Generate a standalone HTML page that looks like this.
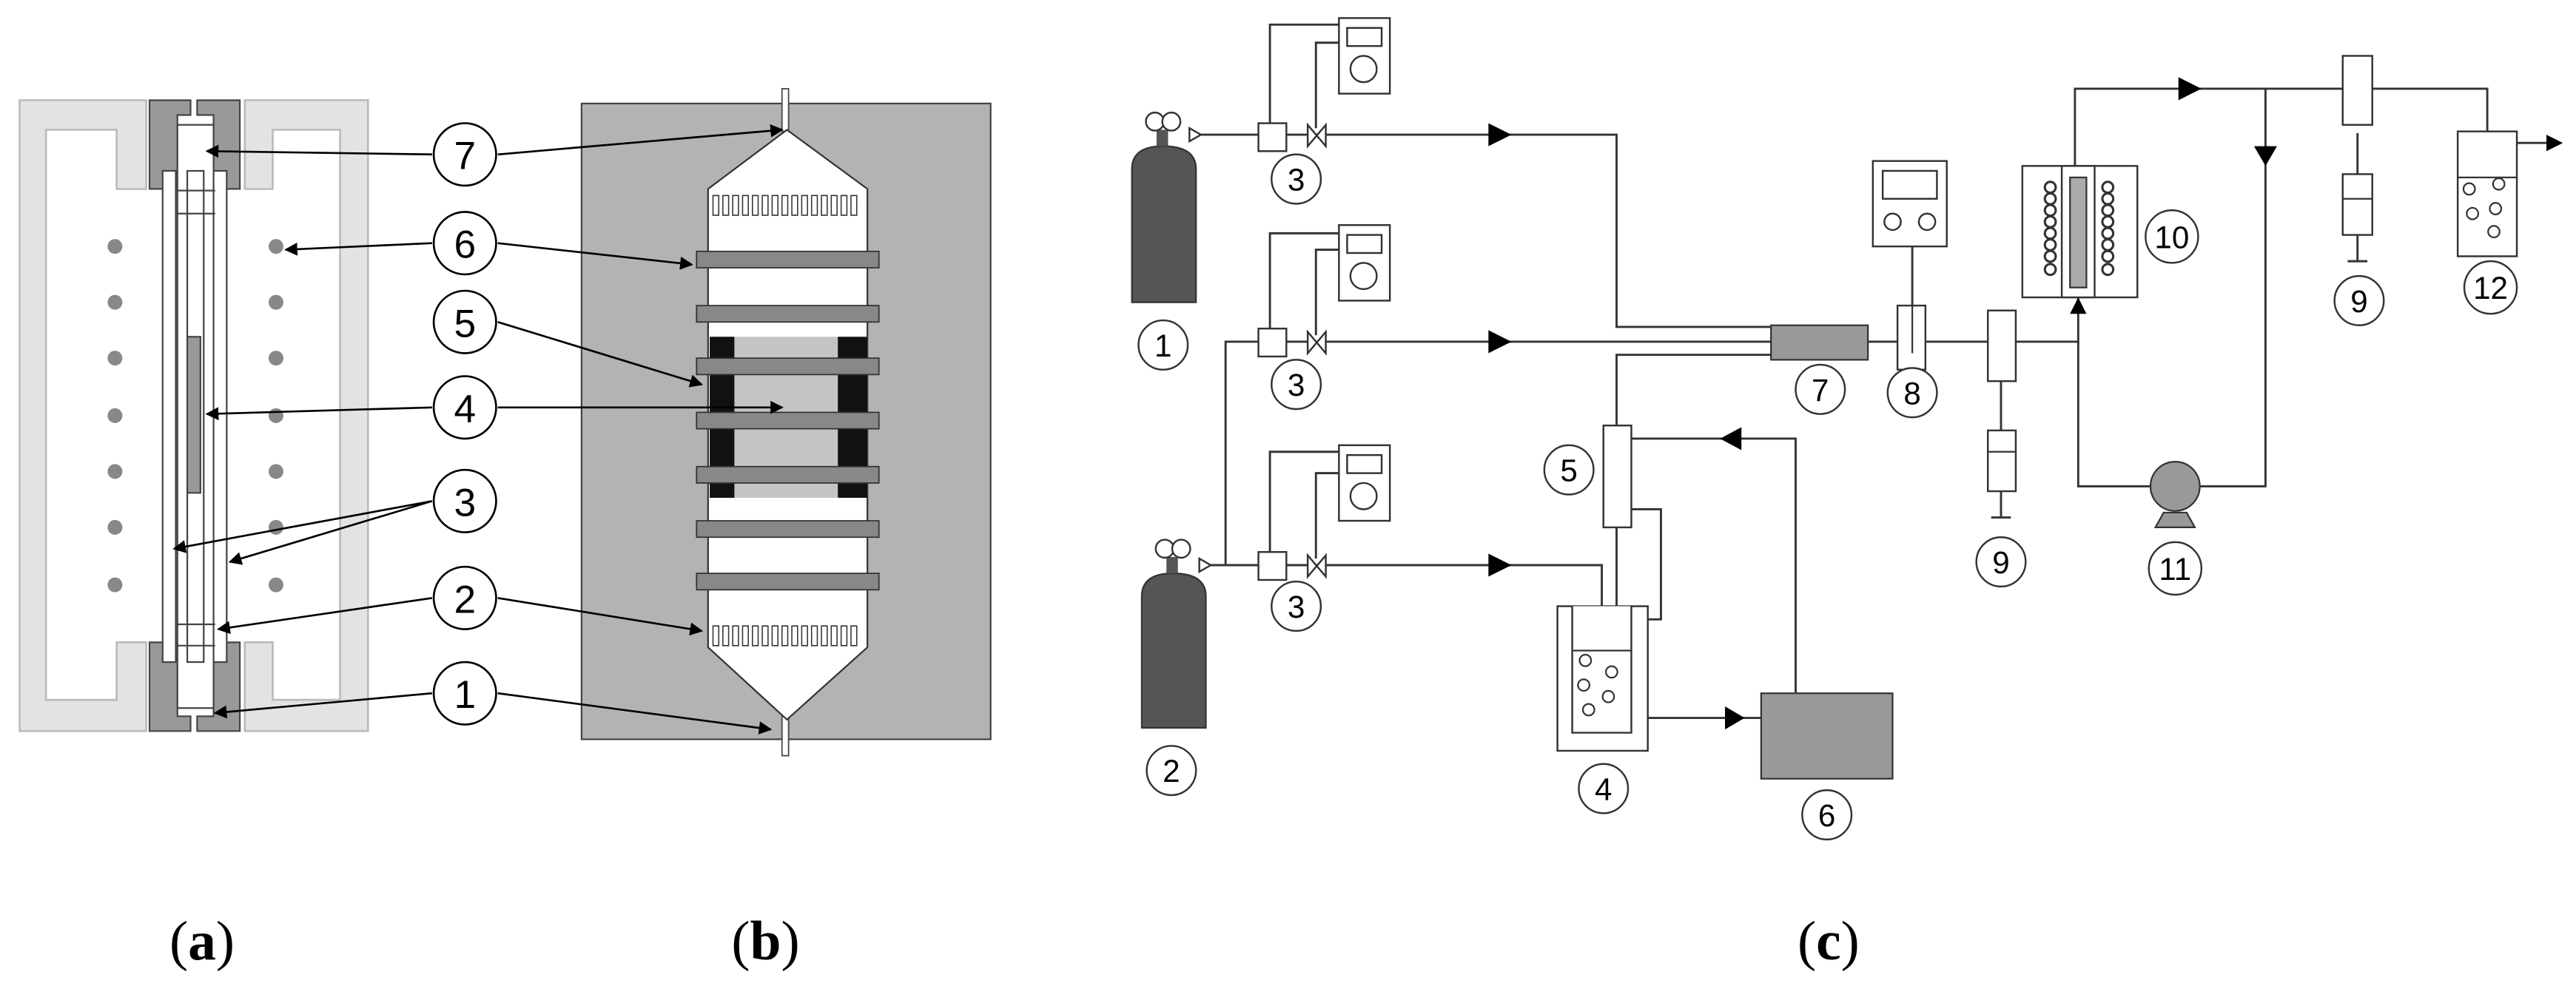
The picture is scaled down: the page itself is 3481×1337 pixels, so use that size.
<!DOCTYPE html>
<html><head><meta charset="utf-8"><style>html,body{margin:0;padding:0;background:#fff}svg{display:block}</style></head>
<body>
<svg width="3481" height="1337" viewBox="0 0 1568 602" preserveAspectRatio="none" xmlns="http://www.w3.org/2000/svg" font-family="Liberation Sans, sans-serif">
<defs>
<marker id="ar" markerWidth="8" markerHeight="8" refX="7" refY="4" orient="auto" markerUnits="userSpaceOnUse"><path d="M0,0 L8,4 L0,8 z" fill="#000"/></marker>
</defs>
<!-- (a) -->
<g stroke="#bbb" stroke-width="1.2">
<path d="M12,61 H89 V115 H71 V79 H28 V426 H71 V391 H89 V445 H12 Z" fill="#e3e3e3"/>
<path d="M224,61 H149 V115 H166 V79 H207 V426 H166 V391 H149 V445 H224 Z" fill="#e3e3e3"/>
</g>
<g stroke="#444" stroke-width="1">
<path d="M91,61 H116 V70 H108 V115 H91 Z" fill="#999"/>
<path d="M146,61 H120 V70 H130 V115 H146 Z" fill="#999"/>
<path d="M91,445 H116 V436 H108 V391 H91 Z" fill="#999"/>
<path d="M146,445 H120 V436 H130 V391 H146 Z" fill="#999"/>
<rect x="108" y="76" width="22" height="355" fill="#fff"/>
<rect x="99" y="104" width="8" height="299" fill="#fff"/>
<rect x="130" y="104" width="8" height="299" fill="#fff"/>
<rect x="114" y="104" width="10" height="299" fill="#fff"/>
<line x1="107" y1="116" x2="131" y2="116"/><line x1="107" y1="130" x2="131" y2="130"/>
<line x1="107" y1="380" x2="131" y2="380"/><line x1="107" y1="393" x2="131" y2="393"/>
<rect x="114" y="205" width="8" height="95" fill="#999"/>
</g>
<g fill="#888"><circle cx="70" cy="150" r="4.5"/><circle cx="70" cy="184" r="4.5"/><circle cx="70" cy="218" r="4.5"/><circle cx="70" cy="253" r="4.5"/><circle cx="70" cy="287" r="4.5"/><circle cx="70" cy="321" r="4.5"/><circle cx="70" cy="356" r="4.5"/>
<circle cx="168" cy="150" r="4.5"/><circle cx="168" cy="184" r="4.5"/><circle cx="168" cy="218" r="4.5"/><circle cx="168" cy="253" r="4.5"/><circle cx="168" cy="287" r="4.5"/><circle cx="168" cy="321" r="4.5"/><circle cx="168" cy="356" r="4.5"/></g>
<!-- (b) -->
<rect x="354" y="63" width="249" height="387" fill="#b3b3b3" stroke="#444"/>
<rect x="476" y="54" width="4" height="26" fill="#fff" stroke="#444" stroke-width="0.8"/>
<rect x="476" y="434" width="4" height="26" fill="#fff" stroke="#444" stroke-width="0.8"/>
<path d="M479,79 L431,115 V394 L479,438 L528,394 V115 Z" fill="#fff" stroke="#333"/>
<g stroke="#333" stroke-width="0.7" fill="none" id="perf">
<path d="M434,119v12h3.5v-12zM440,119v12h3.5v-12zM446,119v12h3.5v-12zM452,119v12h3.5v-12zM458,119v12h3.5v-12zM464,119v12h3.5v-12zM470,119v12h3.5v-12zM476,119v12h3.5v-12zM482,119v12h3.5v-12zM488,119v12h3.5v-12zM494,119v12h3.5v-12zM500,119v12h3.5v-12zM506,119v12h3.5v-12zM512,119v12h3.5v-12zM518,119v12h3.5v-12z"/>
</g>
<use href="#perf" y="262"/>
<rect x="432" y="205" width="96" height="98" fill="#c4c4c4"/>
<rect x="432" y="205" width="15" height="98" fill="#111"/><rect x="510" y="205" width="18" height="98" fill="#111"/>
<g fill="#888" stroke="#333" stroke-width="0.8">
<rect x="424" y="153" width="111" height="10"/><rect x="424" y="186" width="111" height="10"/><rect x="424" y="218" width="111" height="10"/><rect x="424" y="251" width="111" height="10"/><rect x="424" y="284" width="111" height="10"/><rect x="424" y="317" width="111" height="10"/><rect x="424" y="349" width="111" height="10"/>
</g>
<g stroke="#000" stroke-width="1.2" fill="none" marker-end="url(#ar)">
<line x1="263" y1="94" x2="126" y2="92"/>
<line x1="303" y1="94" x2="476" y2="79"/>
<line x1="263" y1="148" x2="174" y2="152"/>
<line x1="303" y1="148" x2="421" y2="161"/>
<line x1="303" y1="196" x2="427" y2="234"/>
<line x1="263" y1="248" x2="126" y2="252"/>
<line x1="303" y1="248" x2="476" y2="248"/>
<line x1="263" y1="305" x2="106" y2="334"/>
<line x1="263" y1="305" x2="140" y2="342"/>
<line x1="263" y1="364" x2="133" y2="383"/>
<line x1="303" y1="364" x2="427" y2="384"/>
<line x1="263" y1="422" x2="131" y2="434"/>
<line x1="303" y1="422" x2="469" y2="444"/>
</g>
<g fill="#fff" stroke="#000" stroke-width="1.2">
<circle cx="283" cy="94" r="19"/><circle cx="283" cy="148" r="19"/><circle cx="283" cy="196" r="19"/><circle cx="283" cy="248" r="19"/><circle cx="283" cy="305" r="19"/><circle cx="283" cy="364" r="19"/><circle cx="283" cy="422" r="19"/>
</g>
<g font-size="24" text-anchor="middle">
<text x="283" y="103">7</text><text x="283" y="157">6</text><text x="283" y="205">5</text><text x="283" y="257">4</text><text x="283" y="314">3</text><text x="283" y="373">2</text><text x="283" y="431">1</text>
</g>
<!-- (c) connectors -->
<g stroke="#333" stroke-width="1.3" fill="none">
<path d="M731,82 H984 V199 H1078"/>
<path d="M746,344 V208 H1078"/>
<path d="M984,259 V216 H1078"/>
<path d="M734,344 H975 V397"/>
<path d="M984,321 V374"/>
<path d="M993,310 H1011 V377 H1003"/>
<path d="M1003,437 H1072"/>
<path d="M1093,422 V267 H993"/>
<path d="M1137,208 H1265 V181"/>
<path d="M1263,101 V54 H1514 V139"/>
<path d="M1379,54 V296 H1339"/>
<path d="M1309,296 H1265 V208"/>
<path d="M1164,150 V215"/>
<path d="M1218,232 V262 M1218,299 V315 M1212,315 H1224"/>
<path d="M1435,81 V106 M1435,143 V159 M1429,159 H1441"/>
<path d="M1532,87 H1552"/>
<path d="M773,78 V15 H815 M801,78 V26 H815"/>
<path d="M773,204 V142 H815 M801,204 V152 H815"/>
<path d="M773,340 V275 H815 M801,340 V288 H815"/>
</g>
<g fill="#000">
<path d="M906,75 L920,82 L906,89 Z"/><path d="M906,201 L920,208 L906,215 Z"/><path d="M906,337 L920,344 L906,351 Z"/>
<path d="M1050,430 L1062,437 L1050,444 Z"/><path d="M1060,260 L1047,267 L1060,274 Z"/>
<path d="M1326,47 L1340,54 L1326,61 Z"/><path d="M1372,89 L1386,89 L1379,101 Z"/>
<path d="M1260,191 L1270,191 L1265,181 Z"/><path d="M1550,82 L1560,87 L1550,92 Z"/>
</g>
<!-- cylinders -->
<path d="M689,184 V103 Q689,89 708,89 Q728,89 728,103 V184 Z" fill="#555" stroke="#333"/>
<path d="M695,443 V363 Q695,349 714,349 Q734,349 734,363 V443 Z" fill="#555" stroke="#333"/>
<rect x="704" y="79" width="7" height="10" fill="#555"/><rect x="710" y="339" width="7" height="10" fill="#555"/>
<g fill="#fff" stroke="#333" stroke-width="1.1">
<circle cx="703" cy="74" r="5.5"/><circle cx="713" cy="74" r="5.5"/><circle cx="709" cy="334" r="5.5"/><circle cx="719" cy="334" r="5.5"/>
<path d="M724,78 L731,82 L724,86 Z"/><path d="M730,340 L737,344 L730,348 Z"/>
<rect x="766" y="75" width="17" height="17"/><rect x="766" y="200" width="17" height="17"/><rect x="766" y="336" width="17" height="17"/>
<path d="M796,76 L807,89 V76 L796,89 Z"/><path d="M796,202 L807,215 V202 L796,215 Z"/><path d="M796,338 L807,351 V338 L796,351 Z"/>
<rect x="815" y="11" width="31" height="46"/><rect x="815" y="137" width="31" height="46"/><rect x="815" y="271" width="31" height="46"/>
<rect x="820" y="17" width="21" height="11"/><rect x="820" y="143" width="21" height="11"/><rect x="820" y="277" width="21" height="11"/>
<circle cx="830" cy="42" r="8"/><circle cx="830" cy="168" r="8"/><circle cx="830" cy="302" r="8"/>
<rect x="1140" y="98" width="45" height="52"/><rect x="1146" y="104" width="33" height="17"/><circle cx="1152" cy="135" r="5"/><circle cx="1173" cy="135" r="5"/>
<rect x="1155" y="186" width="17" height="39"/>
<rect x="1210" y="189" width="17" height="43"/>
<rect x="1210" y="262" width="17" height="37"/>
<rect x="1426" y="34" width="18" height="42"/>
<rect x="1426" y="106" width="18" height="37"/>
<rect x="1231" y="101" width="70" height="80"/><rect x="1255" y="101" width="20" height="80"/>
<rect x="1496" y="80" width="36" height="76"/>
<rect x="948" y="369" width="55" height="88"/>
<path d="M957,369 V446 H993 V369"/>
<rect x="976" y="259" width="17" height="62"/>
</g>
<line x1="1164" y1="186" x2="1164" y2="215" stroke="#333"/>
<path d="M1496,108 H1532 M957,396 H993 M1210,275 H1227 M1426,121 H1444" stroke="#333"/>
<g stroke="#333" fill="none" stroke-width="1"><circle cx="1503" cy="115" r="3.5"/><circle cx="1521" cy="112" r="3.5"/><circle cx="1519" cy="127" r="3.5"/><circle cx="1505" cy="130" r="3.5"/><circle cx="1518" cy="141" r="3.5"/>
<circle cx="965" cy="402" r="3.5"/><circle cx="981" cy="409" r="3.5"/><circle cx="964" cy="417" r="3.5"/><circle cx="979" cy="424" r="3.5"/><circle cx="967" cy="432" r="3.5"/></g>
<rect x="1260" y="108" width="10" height="67" fill="#aaa" stroke="#333"/>
<g fill="#fff" stroke="#333" stroke-width="1.4">
<circle cx="1248" cy="114" r="3.3"/><circle cx="1248" cy="121" r="3.3"/><circle cx="1248" cy="128" r="3.3"/><circle cx="1248" cy="135" r="3.3"/><circle cx="1248" cy="142" r="3.3"/><circle cx="1248" cy="149" r="3.3"/><circle cx="1248" cy="156" r="3.3"/><circle cx="1248" cy="164" r="3.3"/>
<circle cx="1283" cy="114" r="3.3"/><circle cx="1283" cy="121" r="3.3"/><circle cx="1283" cy="128" r="3.3"/><circle cx="1283" cy="135" r="3.3"/><circle cx="1283" cy="142" r="3.3"/><circle cx="1283" cy="149" r="3.3"/><circle cx="1283" cy="156" r="3.3"/><circle cx="1283" cy="164" r="3.3"/>
</g>
<rect x="1078" y="198" width="59" height="21" fill="#999" stroke="#333"/>
<rect x="1072" y="422" width="80" height="52" fill="#999" stroke="#333"/>
<path d="M1312,321 L1336,321 L1331,312 L1317,312 Z" fill="#999" stroke="#333"/>
<circle cx="1324" cy="296" r="15" fill="#999" stroke="#333"/>
<g fill="#fff" stroke="#333" stroke-width="1.1">
<circle cx="708" cy="210" r="15"/><circle cx="713" cy="469" r="15"/><circle cx="789" cy="109" r="15"/><circle cx="789" cy="234" r="15"/><circle cx="789" cy="369" r="15"/>
<circle cx="955" cy="286" r="15"/><circle cx="976" cy="480" r="15"/><circle cx="1112" cy="496" r="15"/><circle cx="1108" cy="237" r="15"/><circle cx="1164" cy="239" r="15"/><circle cx="1218" cy="342" r="15"/>
<circle cx="1322" cy="144" r="16"/><circle cx="1324" cy="346" r="16"/><circle cx="1436" cy="183" r="15"/><circle cx="1516" cy="175" r="16"/>
</g>
<g font-size="19" text-anchor="middle">
<text x="708" y="217">1</text><text x="713" y="476">2</text><text x="789" y="116">3</text><text x="789" y="241">3</text><text x="789" y="376">3</text>
<text x="955" y="293">5</text><text x="976" y="487">4</text><text x="1112" y="503">6</text><text x="1108" y="244">7</text><text x="1164" y="246">8</text><text x="1218" y="349">9</text>
<text x="1322" y="151">10</text><text x="1324" y="353">11</text><text x="1436" y="190">9</text><text x="1516" y="182">12</text>
</g>
<g font-family="Liberation Serif, serif" font-size="34" text-anchor="middle">
<text x="123" y="584">(<tspan font-weight="bold">a</tspan>)</text>
<text x="466" y="584">(<tspan font-weight="bold">b</tspan>)</text>
<text x="1113" y="584">(<tspan font-weight="bold">c</tspan>)</text>
</g>
</svg>
</body></html>
